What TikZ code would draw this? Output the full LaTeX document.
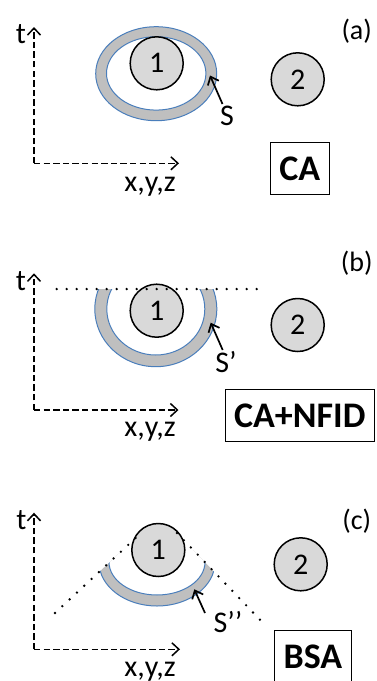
\documentclass[tikz,border=0pt]{standalone}
\usepackage{fontspec}
\setmainfont{Carlito}
\usetikzlibrary{arrows.meta, shapes.geometric}
\definecolor{ringgray}{HTML}{BFBFBF}
\definecolor{ringblue}{HTML}{4A7EBB}
\definecolor{ballgray}{HTML}{D9D9D9}

\begin{document}
\begin{tikzpicture}[
    x=0.5pt, y=0.5pt, yscale=-1,
    ball/.style={circle, draw, line width=0.75pt, fill=ballgray, minimum size=26.5pt, inner sep=0pt, font={\fontsize{15}{17}\selectfont}},
    lbl/.style={inner sep=0pt, font={\fontsize{15}{17}\selectfont}},
    panel/.style={inner sep=0pt, font={\fontsize{14}{16}\selectfont}},
    tag/.style={draw, line width=0.5pt, inner sep=0pt, minimum height=26.15pt, font={\fontsize{18}{20}\selectfont\bfseries}},
    axis/.style={line width=0.75pt, dash pattern=on 3.2pt off 1.6pt, -{Straight Barb[length=3.5pt, width=6.5pt]}},
    sarrow/.style={line width=0.85pt, -{Straight Barb[length=3.5pt, width=6pt]}},
    dots/.style={line width=1.3pt, line cap=round, dash pattern=on 0pt off 5pt},
    ringout/.style={ellipse, draw=ringblue, line width=0.5pt, fill=ringgray, inner sep=0pt},
    ringin/.style={ellipse, draw=ringblue, line width=0.5pt, fill=white, inner sep=0pt},
]
\useasboundingbox (0,0) rectangle (376,681);

% (a) CA
\coordinate (oa) at (34,163.3);
\coordinate (ta) at (34,27);
\coordinate (xa) at (179,163.3);
\draw[axis] (oa) -- (ta);
\draw[axis] (oa) -- (xa);
\node[lbl] (tla) at (21,34) {t};
\node[lbl, anchor=base] (xyza) at (150,191.5) {x,y,z};
\node[ringout, minimum width=60.5pt, minimum height=47pt] (roa) at (156.2,73.7) {};
\node[ringin, minimum width=49.7pt, minimum height=36.7pt] (ria) at (156.2,73.4) {};
\node[ball] (c1a) at (156.7,63.3) {1};
\node[ball] (c2a) at (297.7,79.3) {2};
\node[lbl] (sa) at (227,116) {S};
\coordinate (sta) at (222.5,104);
\coordinate (spa) at (210,75.5);
\draw[sarrow] (sta) -- (spa);
\node[tag, minimum width=29.65pt] (boxa) at (299.7,168.8) {CA};
\node[panel] (pa) at (356.7,31) {(a)};

% (b) CA+NFID
\coordinate (ob) at (34,410);
\coordinate (tb) at (34,273.3);
\coordinate (xb) at (178.5,410);
\draw[axis] (ob) -- (tb);
\draw[axis] (ob) -- (xb);
\node[lbl] (tlb) at (21,281) {t};
\node[lbl, anchor=base] (xyzb) at (150,436) {x,y,z};
\begin{scope}
  \clip (80,289) rectangle (230,380);
  \node[ringout, minimum width=61pt, minimum height=57.7pt] (rob) at (155.8,309) {};
  \node[ringin, minimum width=49pt, minimum height=46pt] (rib) at (155.8,309) {};
\end{scope}
\node[ball] (c1b) at (156.7,310.7) {1};
\node[ball] (c2b) at (297.7,325) {2};
\coordinate (hl) at (56.7,289);
\coordinate (hr) at (265,289);
\draw[dots] (hl) -- (hr);
\node[lbl] (sb) at (226,362) {S’};
\coordinate (stb) at (222.7,350);
\coordinate (spb) at (210.7,322.7);
\draw[sarrow] (stb) -- (spb);
\node[tag, minimum width=74.25pt] (boxb) at (299.8,415.5) {CA+NFID};
\node[panel] (pb) at (356.7,263) {(b)};

% (c) BSA
\coordinate (oc) at (34,649.3);
\coordinate (tc) at (34,512.7);
\coordinate (xc) at (180,649.3);
\draw[axis] (oc) -- (tc);
\draw[axis] (oc) -- (xc);
\node[lbl] (tlc) at (21.5,520) {t};
\node[lbl, anchor=base] (xyzc) at (150,676.5) {x,y,z};
\begin{scope}
  \clip (40,627) -- (160,515.4) -- (280,640.3) -- cycle;
  \clip (40,550) rectangle (280,640);
  \node[ringout, minimum width=58pt, minimum height=44pt] (roc) at (157,562) {};
  \node[ringin, minimum width=48pt, minimum height=33pt] (ric) at (157,562) {};
\end{scope}
\node[ball] (c1c) at (158.3,550) {1};
\node[ball] (c2c) at (300.7,564.3) {2};
\coordinate (cl) at (55,613);
\coordinate (cla) at (142,532);
\coordinate (cra) at (177,533);
\coordinate (cr) at (265,625);
\draw[dots] (cl) -- (cla);
\draw[dots] (cra) -- (cr);
\node[lbl] (sc) at (228,622) {S’’};
\coordinate (stc) at (205,613);
\coordinate (spc) at (194.3,589.3);
\draw[sarrow] (stc) -- (spc);
\node[tag, minimum width=38.85pt] (boxc) at (312.9,656.9) {BSA};
\node[panel] (pc) at (356.7,521) {(c)};
\end{tikzpicture}
\end{document}
